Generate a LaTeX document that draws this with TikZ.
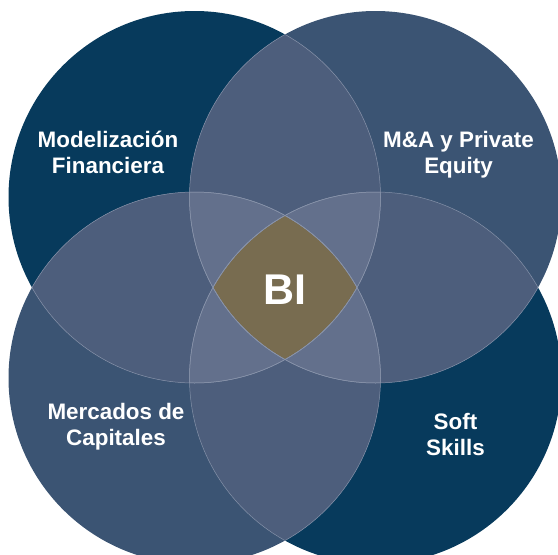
\documentclass[tikz,border=0pt]{standalone}
\usepackage{fontspec}
\setmainfont{Liberation Sans}
\definecolor{navy}{HTML}{073A5C}
\definecolor{slate}{HTML}{3B5473}
\definecolor{pairc}{HTML}{4D5E7C}
\definecolor{triplec}{HTML}{63708C}
\definecolor{bic}{HTML}{786C50}
\definecolor{edgec}{HTML}{8893AA}
\begin{document}
\begin{tikzpicture}[x=1pt,y=-1pt,
  lbl/.style={text=white,font=\fontsize{22.4}{26}\selectfont\bfseries,align=center,inner sep=0pt},
  bilbl/.style={text=white,font=\fontsize{43}{50}\selectfont\bfseries,inner sep=0pt},
  rim/.style={draw=edgec,line width=0.5pt}]
\useasboundingbox (0,0) rectangle (558,555);
\clip (0,0) rectangle (558,555);
\def\R{186pt}
\coordinate (tl) at (194.5,197);
\coordinate (tr) at (375.5,197);
\coordinate (bl) at (194.5,378);
\coordinate (br) at (375.5,378);
% base circles
\fill[navy]  (tl) circle[radius=\R];
\fill[slate] (tr) circle[radius=\R];
\fill[slate] (bl) circle[radius=\R];
\fill[navy]  (br) circle[radius=\R];
% pair overlaps
\foreach \a/\b in {tl/tr,tl/bl,tr/br,bl/br,tl/br,tr/bl}{
  \begin{scope}
    \clip (\a) circle[radius=\R];
    \fill[pairc] (\b) circle[radius=\R];
  \end{scope}
}
% triple overlaps
\foreach \a/\b/\c in {tl/tr/bl,tl/tr/br,tl/bl/br,tr/bl/br}{
  \begin{scope}
    \clip (\a) circle[radius=\R];
    \clip (\b) circle[radius=\R];
    \fill[triplec] (\c) circle[radius=\R];
  \end{scope}
}
% centre
\begin{scope}
  \clip (tl) circle[radius=\R];
  \clip (tr) circle[radius=\R];
  \clip (bl) circle[radius=\R];
  \fill[bic] (br) circle[radius=\R];
\end{scope}
% thin rims inside overlaps
\foreach \a/\b in {tl/tr,tl/bl,tl/br,tr/tl,tr/bl,tr/br,bl/tl,bl/tr,bl/br,br/tl,br/tr,br/bl}{
  \begin{scope}
    \clip (\b) circle[radius=\R];
    \draw[rim] (\a) circle[radius=\R];
  \end{scope}
}
% labels
\node[lbl,anchor=base] (mf) at (108,173) {Modelización\\Financiera};
\node[lbl,anchor=base] (ma) at (458.5,173) {M\&A y Private\\Equity};
\node[lbl,anchor=base] (mc) at (116,445) {Mercados de\\Capitales};
\node[lbl,anchor=base] (ss) at (455.5,455) {Soft\\Skills};
\node[bilbl,anchor=base] (bi) at (285,304) {BI};
\end{tikzpicture}
\end{document}
